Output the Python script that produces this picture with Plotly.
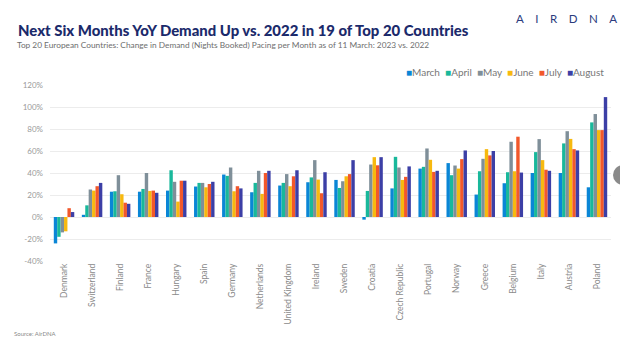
import plotly.graph_objects as go

countries = ["Denmark", "Switzerland", "Finland", "France", "Hungary", "Spain", "Germany",
             "Netherlands", "United Kingdom", "Ireland", "Sweden", "Croatia", "Czech Republic",
             "Portugal", "Norway", "Greece", "Belgium", "Italy", "Austria", "Poland"]
months = ["March", "April", "May", "June", "July", "August"]
colors = ["#0a86d6", "#19b89b", "#7f8f99", "#f7b90f", "#f2582b", "#3c3fa6"]

march  = [-24, 2, 23, 23, 24, 27.7, 38.6, 22.5, 28.6, 31.6, 33.7, -2.4, 26, 44, 49, 20.4, 30.7, 40, 40, 27]
april  = [-18, 10.6, 23.4, 25.5, 42.5, 31, 37.4, 31, 31, 36, 26.4, 23.7, 54.7, 45.6, 38, 41.6, 40.7, 59, 66.9, 86]
may    = [-14, 25, 38, 40, 32, 31, 45, 42, 39, 51.7, 32.5, 47.7, 45, 62.3, 46.8, 52.9, 68.4, 70.8, 78, 93.6]
june   = [-13, 24, 20.7, 23.7, 14, 27, 23.4, 21, 28, 34, 37, 54.4, 33.7, 52, 44, 61.7, 41.6, 51.7, 71, 79]
july   = [8, 28, 13, 24, 33, 30, 28, 40, 37, 21.6, 39, 47, 36.5, 41, 52.6, 56, 73, 43, 61.7, 79]
august = [4.5, 31, 12, 22, 33, 32, 26, 42, 42.5, 40.7, 51.7, 54.4, 46, 42, 60.5, 60, 40.4, 42, 60.5, 109]
series = [march, april, may, june, july, august]

y_ticks = [-40, -20, 0, 20, 40, 60, 80, 100, 120]
y_labels = [f"{v}%" for v in y_ticks]

fig = go.Figure()
for name, vals, col in zip(months, series, colors):
    fig.add_trace(go.Bar(name=name, x=countries, y=vals, marker=dict(color=col, line=dict(width=0))))

W, H = 620, 348
ml, mr, mt, mb = 50, 9, 85, 87
pw, ph = W - ml - mr, H - mt - mb

def px(x):
    return (x - ml) / pw

def py(y):
    return (H - mb - y) / ph

legend_text = "  ".join(
    f'<span style="color:{c}">■</span>{m}' for m, c in zip(months, colors)
)
logo_text = "\u2002\u2002".join("AIRDNA")

fig.update_layout(
    width=W, height=H,
    margin=dict(l=ml, r=mr, t=mt, b=mb),
    paper_bgcolor="white", plot_bgcolor="white",
    barmode="group", bargap=0.27, bargroupgap=0,
    showlegend=False,
    font=dict(family="Lato, sans-serif", color="#888888"),
    xaxis=dict(tickangle=-90, tickfont=dict(size=8.5, color="#8a8a8a"), showgrid=False,
               showline=False, ticks="", ticklen=0),
    yaxis=dict(range=[-40, 120], tickvals=y_ticks, ticktext=y_labels,
               tickfont=dict(size=8, color="#9a9a9a"), gridcolor="#ececec", gridwidth=1,
               zeroline=False, showline=False, ticks="", ticklabelstandoff=6),
    annotations=[
        dict(text="Next Six Months YoY Demand Up vs. 2022 in 19 of Top 20 Countries",
             xref="paper", yref="paper", x=px(16), y=py(30), xanchor="left", yanchor="middle",
             showarrow=False, font=dict(family="Lato", size=14.9, weight=900, color="#1b2a6b")),
        dict(text="Top 20 European Countries: Change in Demand (Nights Booked) Pacing per Month as of 11 March: 2023 vs. 2022",
             xref="paper", yref="paper", x=px(15), y=py(45), xanchor="left", yanchor="middle",
             showarrow=False, font=dict(family="Lato", size=8.3, color="#6e6e6e")),
        dict(text=logo_text, xref="paper", yref="paper", x=px(619), y=py(18),
             xanchor="right", yanchor="middle", showarrow=False,
             font=dict(family="Lato", size=11.5, weight=400, color="#2b3b7d")),
        dict(text=legend_text, xref="paper", yref="paper", x=px(606), y=py(72),
             xanchor="right", yanchor="middle", showarrow=False,
             font=dict(family="Lato", size=10, color="#777777")),
        dict(text="Source: AirDNA", xref="paper", yref="paper", x=px(12), y=py(333),
             xanchor="left", yanchor="middle", showarrow=False,
             font=dict(family="Lato", size=6, color="#8a8a8a")),
    ],
    shapes=[
        dict(type="circle", xref="paper", yref="paper",
             x0=px(613), x1=px(633), y0=py(165), y1=py(185),
             fillcolor="#8a8a8a", line=dict(width=0)),
    ],
)

fig.write_html("out.html")
